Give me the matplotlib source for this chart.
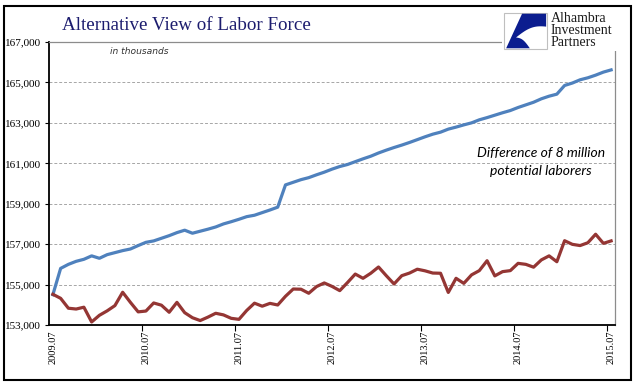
import matplotlib
matplotlib.use("Agg")
import matplotlib.pyplot as plt
from matplotlib.patches import Rectangle, Polygon
from matplotlib.ticker import FuncFormatter
import numpy as np

# ---- data (thousands) ----
alt_labor_force = [
    154500, 155800, 156000, 156150, 156250, 156420, 156300, 156480, 156580, 156680,
    156760, 156930, 157090, 157160, 157290, 157420, 157570, 157690, 157540, 157640,
    157740, 157850, 158000, 158110, 158230, 158360, 158430, 158560, 158690, 158830,
    159930, 160060, 160190, 160290, 160430, 160560, 160710, 160840, 160940, 161080,
    161220, 161350, 161510, 161650, 161780, 161900, 162030, 162170, 162310, 162440,
    162540, 162690, 162790, 162900, 163000, 163150, 163260, 163380, 163500, 163610,
    163760, 163890, 164020, 164190, 164320, 164420, 164850, 164970, 165130, 165230,
    165360, 165510, 165620]
labor_force = [
    154520, 154320, 153830, 153790, 153880, 153150, 153480, 153700, 153960, 154620,
    154120, 153650, 153690, 154090, 153980, 153630, 154120, 153610, 153360, 153220,
    153390, 153580, 153500, 153330, 153280, 153720, 154080, 153930, 154070, 153990,
    154420, 154780, 154770, 154570, 154900, 155080, 154910, 154700, 155100, 155520,
    155310, 155560, 155870, 155440, 155030, 155440, 155570, 155760, 155680, 155570,
    155560, 154610, 155310, 155060, 155480, 155690, 156180, 155430, 155640, 155690,
    156050, 156000, 155860, 156220, 156420, 156130, 157170, 156990, 156930, 157070,
    157490, 157040, 157160]
tick_labels = ['2009.07', '2010.07', '2011.07', '2012.07', '2013.07', '2014.07', '2015.07']
y_ticks = [153000, 155000, 157000, 159000, 161000, 163000, 165000, 167000]

W, H = 644, 392
fig = plt.figure(figsize=(W / 100, H / 100), dpi=100)
fig.patch.set_facecolor('white')

def fx(px):
    return px / W

def fy(py):
    return 1 - py / H

ax = fig.add_axes([fx(49), fy(325), fx(615) - fx(49), fy(42) - fy(325)])
n = len(alt_labor_force)
x = np.arange(n)
ax.plot(x, alt_labor_force, color='#4F81BD', lw=2.3, solid_joinstyle='round', zorder=3)
ax.plot(x, labor_force, color='#943634', lw=2.3, solid_joinstyle='round', zorder=3)

ax.set_xlim(-0.5, n - 0.5)
ax.set_ylim(153000, 167000)

serif = ['Liberation Serif', 'DejaVu Serif']
ax.set_yticks(y_ticks)
ax.yaxis.set_major_formatter(FuncFormatter(lambda v, p: f"{int(v):,}"))
for lab in ax.get_yticklabels():
    lab.set_fontfamily(serif)
    lab.set_fontsize(8)
ax.tick_params(axis='y', direction='out', length=3, width=0.8, pad=3, colors='black')

label_pos = [12 * k for k in range(len(tick_labels))]
ax.set_xticks([p - 0.5 for p in label_pos[1:]])
ax.set_xticklabels([])
ax.set_xticks(label_pos, minor=True)
ax.set_xticklabels(tick_labels, minor=True, rotation=90, fontfamily=serif, fontsize=7.5)
ax.tick_params(axis='x', which='major', direction='out', length=4, width=0.8)
ax.tick_params(axis='x', which='minor', length=0, pad=4)

for v in y_ticks[1:-1]:
    ax.axhline(v, color='#A6A6A6', lw=0.7, ls=(0, (3, 2)), zorder=1)

for s in ['left', 'bottom']:
    ax.spines[s].set_color('black')
    ax.spines[s].set_linewidth(1.3)
for s in ['top', 'right']:
    ax.spines[s].set_color('#8C8C8C')
    ax.spines[s].set_linewidth(0.9)

# annotations
fig.text(fx(62), fy(25), 'Alternative View of Labor Force', fontfamily=serif,
         fontsize=13.7, color='#1C1C6E', ha='left', va='center')
fig.text(fx(110), fy(52), 'in thousands', fontfamily='DejaVu Sans', style='italic',
         fontsize=6.6, color='#333333', ha='left', va='center')
fig.text(fx(541), fy(153), 'Difference of 8 million', fontfamily='Lato', style='italic',
         fontsize=10, color='black', ha='center', va='center')
fig.text(fx(541), fy(171), 'potential laborers', fontfamily='Lato', style='italic',
         fontsize=10, color='black', ha='center', va='center')

# logo area (white mask over top-right corner)
fig.add_artist(Rectangle((fx(502), fy(51)), fx(632) - fx(502), fy(8) - fy(51),
                         transform=fig.transFigure, facecolor='white', edgecolor='none', zorder=5))
bx0, bx1, by0, by1 = 504, 547, 13, 49
fig.add_artist(Rectangle((fx(bx0), fy(by1)), fx(bx1) - fx(bx0), fy(by0) - fy(by1),
                         transform=fig.transFigure, facecolor='white', edgecolor='#BFBFBF',
                         lw=0.8, zorder=6))

def box_pt(u, v):
    return (fx(bx0 + u * (bx1 - bx0)), fy(by1 - v * (by1 - by0)))

t = np.linspace(0, 1, 20)
# upper-right edge: curve from right side down to middle-left
cu = [(1 - 0.72 * s, 0.62 - 0.3 * s + 0.12 * np.sin(np.pi * s)) for s in t]
# lower curve from middle-left to bottom
cl = [(0.28 + 0.32 * s, 0.32 - 0.30 * s + 0.08 * np.sin(np.pi * s)) for s in t]
verts = [(0.42, 0.98), (0.98, 0.98), (0.98, 0.62)] + cu[1:] + cl[1:] + [(0.05, 0.02)]
fig.add_artist(Polygon([box_pt(u, v) for u, v in verts], closed=True,
                       transform=fig.transFigure, facecolor='#0B1D8F', edgecolor='none', zorder=7))

for txt, yy in [('Alhambra', 19), ('Investment', 31), ('Partners', 43)]:
    fig.text(fx(551), fy(yy), txt, fontfamily=serif, fontsize=10, color='#1A1A1A',
             ha='left', va='center', zorder=7)

# outer border
fig.add_artist(Rectangle((fx(4), fy(380)), fx(631) - fx(4), fy(6) - fy(380),
                         transform=fig.transFigure, facecolor='none', edgecolor='black',
                         lw=1.5, zorder=8))

fig.savefig('out.png', dpi=100)
